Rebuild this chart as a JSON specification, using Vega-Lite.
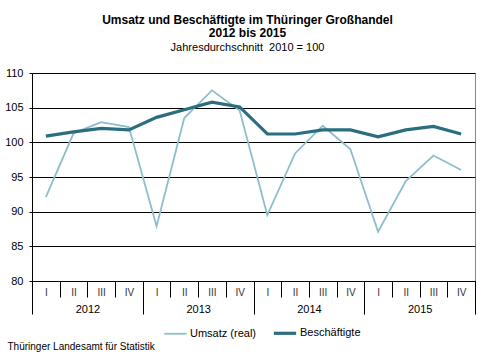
{
  "$schema": "https://vega.github.io/schema/vega-lite/v6.json",
  "width": 443,
  "height": 208,
  "autosize": {"type": "none"},
  "padding": {"left": 32, "top": 73, "right": 9, "bottom": 77},
  "background": "white",
  "config": {
    "font": "Liberation Sans",
    "view": {"stroke": "#888888", "strokeWidth": 1}
  },
  "title": {
    "text": ["Umsatz und Beschäftigte im Thüringer Großhandel", "2012 bis 2015"],
    "subtitle": "Jahresdurchschnitt\u00a0 2010 = 100",
    "fontSize": 12,
    "fontWeight": "bold",
    "lineHeight": 13,
    "color": "black",
    "subtitleFontSize": 11,
    "subtitleColor": "black",
    "subtitlePadding": 2,
    "anchor": "middle",
    "frame": "group",
    "dx": -6,
    "offset": 13
  },
  "data": {
    "values": [
      {"t": "2012-I", "year": "2012", "series": "Umsatz (real)", "value": 92.1},
      {"t": "2012-II", "year": "2012", "series": "Umsatz (real)", "value": 101.3},
      {"t": "2012-III", "year": "2012", "series": "Umsatz (real)", "value": 102.9},
      {"t": "2012-IV", "year": "2012", "series": "Umsatz (real)", "value": 102.2},
      {"t": "2013-I", "year": "2013", "series": "Umsatz (real)", "value": 87.9},
      {"t": "2013-II", "year": "2013", "series": "Umsatz (real)", "value": 103.5},
      {"t": "2013-III", "year": "2013", "series": "Umsatz (real)", "value": 107.5},
      {"t": "2013-IV", "year": "2013", "series": "Umsatz (real)", "value": 104.6},
      {"t": "2014-I", "year": "2014", "series": "Umsatz (real)", "value": 89.5},
      {"t": "2014-II", "year": "2014", "series": "Umsatz (real)", "value": 98.4},
      {"t": "2014-III", "year": "2014", "series": "Umsatz (real)", "value": 102.4},
      {"t": "2014-IV", "year": "2014", "series": "Umsatz (real)", "value": 99.0},
      {"t": "2015-I", "year": "2015", "series": "Umsatz (real)", "value": 87.1},
      {"t": "2015-II", "year": "2015", "series": "Umsatz (real)", "value": 94.4},
      {"t": "2015-III", "year": "2015", "series": "Umsatz (real)", "value": 98.1},
      {"t": "2015-IV", "year": "2015", "series": "Umsatz (real)", "value": 96.0},
      {"t": "2012-I", "year": "2012", "series": "Beschäftigte", "value": 100.9},
      {"t": "2012-II", "year": "2012", "series": "Beschäftigte", "value": 101.5},
      {"t": "2012-III", "year": "2012", "series": "Beschäftigte", "value": 102.0},
      {"t": "2012-IV", "year": "2012", "series": "Beschäftigte", "value": 101.8},
      {"t": "2013-I", "year": "2013", "series": "Beschäftigte", "value": 103.6},
      {"t": "2013-II", "year": "2013", "series": "Beschäftigte", "value": 104.7},
      {"t": "2013-III", "year": "2013", "series": "Beschäftigte", "value": 105.8},
      {"t": "2013-IV", "year": "2013", "series": "Beschäftigte", "value": 105.1},
      {"t": "2014-I", "year": "2014", "series": "Beschäftigte", "value": 101.2},
      {"t": "2014-II", "year": "2014", "series": "Beschäftigte", "value": 101.2},
      {"t": "2014-III", "year": "2014", "series": "Beschäftigte", "value": 101.8},
      {"t": "2014-IV", "year": "2014", "series": "Beschäftigte", "value": 101.8},
      {"t": "2015-I", "year": "2015", "series": "Beschäftigte", "value": 100.8},
      {"t": "2015-II", "year": "2015", "series": "Beschäftigte", "value": 101.8},
      {"t": "2015-III", "year": "2015", "series": "Beschäftigte", "value": 102.3},
      {"t": "2015-IV", "year": "2015", "series": "Beschäftigte", "value": 101.2}
    ]
  },
  "layer": [
    {
      "mark": {"type": "rule", "opacity": 0},
      "encoding": {
        "x": {
          "field": "year",
          "type": "ordinal",
          "scale": {"type": "band", "paddingInner": 0, "paddingOuter": 0},
          "axis": {
            "orient": "bottom",
            "domain": false,
            "tickBand": "extent",
            "tickSize": 33,
            "tickColor": "black",
            "labelPadding": -11,
            "labelAngle": 0,
            "labelFontSize": 11,
            "labelColor": "black",
            "title": "Thüringer Landesamt für Statistik",
            "titleX": -25,
            "titleY": 65,
            "titleAlign": "left",
            "titleBaseline": "middle",
            "titleFontSize": 10,
            "titleFontWeight": "normal",
            "titleColor": "black"
          }
        }
      }
    },
    {
      "mark": {"type": "line", "strokeJoin": "miter"},
      "encoding": {
        "x": {
          "field": "t",
          "type": "ordinal",
          "bandPosition": 0.5,
          "sort": null,
          "scale": {"type": "band", "paddingInner": 0, "paddingOuter": 0},
          "axis": {
            "orient": "bottom",
            "domainColor": "black",
            "tickBand": "extent",
            "tickSize": 16,
            "tickColor": "black",
            "labelExpr": "split(datum.value, '-')[1]",
            "labelAngle": 0,
            "labelPadding": -10,
            "labelFontSize": 10,
            "labelColor": "#333333",
            "title": null
          }
        },
        "y": {
          "field": "value",
          "type": "quantitative",
          "scale": {"domain": [80, 110], "nice": false, "zero": false},
          "axis": {
            "values": [80, 85, 90, 95, 100, 105, 110],
            "title": null,
            "grid": true,
            "gridColor": "black",
            "gridOpacity": 1,
            "domainColor": "black",
            "tickColor": "black",
            "tickSize": 3,
            "labelPadding": 6,
            "labelFontSize": 11,
            "labelColor": "black"
          }
        },
        "color": {
          "field": "series",
          "type": "nominal",
          "scale": {"domain": ["Umsatz (real)", "Beschäftigte"], "range": ["#8cbfca", "#2b6e80"]},
          "legend": {
            "title": null,
            "orient": "none",
            "legendX": 131,
            "legendY": 247,
            "direction": "horizontal",
            "symbolType": "stroke",
            "symbolSize": 500,
            "columnPadding": 10,
            "labelFontSize": 11,
            "labelColor": "black",
            "labelOffset": 2
          }
        },
        "strokeWidth": {
          "field": "series",
          "type": "nominal",
          "scale": {"domain": ["Umsatz (real)", "Beschäftigte"], "range": [1.8, 3.2]},
          "legend": {
            "title": null,
            "orient": "none",
            "legendX": 131,
            "legendY": 247,
            "direction": "horizontal",
            "symbolType": "stroke",
            "symbolSize": 500,
            "columnPadding": 10,
            "labelFontSize": 11,
            "labelColor": "black",
            "labelOffset": 2
          }
        }
      }
    }
  ],
  "resolve": {"scale": {"x": "independent"}}
}
